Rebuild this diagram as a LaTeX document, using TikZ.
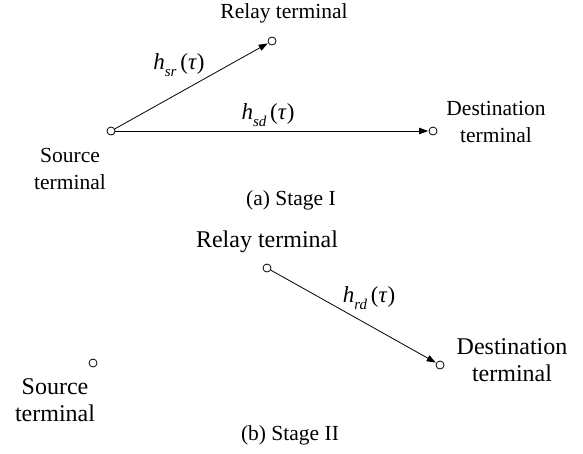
\documentclass[tikz,border=0pt]{standalone}
\usepackage{fontspec}
\setmainfont{Liberation Serif}
\usepackage{tikz}
\usetikzlibrary{positioning, arrows.meta, calc}

\newcommand{\chgain}[1]{\textit{h}\raisebox{-0.3em}{\fontsize{15}{15}\selectfont\textit{#1}}\,(\textit{τ})}

\begin{document}
\begin{tikzpicture}[x=1pt, y=-1pt]
        \tikzset{
            terminal/.style={
                    circle, draw=black, line width=0.8pt, fill=white,
                    minimum size=8pt, inner sep=0pt
                },
            label one/.style={
                    font=\fontsize{21.5}{27}\selectfont, align=center, inner sep=0pt
                },
            label two/.style={
                    font=\fontsize{24}{27}\selectfont, align=center, inner sep=0pt
                },
            channel/.style={
                    font=\fontsize{23}{26}\selectfont, inner sep=0pt
                },
            caption/.style={
                    font=\fontsize{21.5}{25}\selectfont, inner sep=0pt
                },
            link/.style={
                    line width=0.8pt, -{Triangle[length=9pt, width=6.5pt]}, shorten >=0.5pt
                }
        }
        \useasboundingbox (0,0) rectangle (583,453);

        % (a) Stage I
        \node[terminal] (srcA) at (111, 131) {};
        \node[terminal] (relA) at (272, 41) {};
        \node[terminal] (dstA) at (433, 131) {};
        \draw[link] (srcA) -- (relA);
        \draw[link] (srcA) -- (dstA);

        \node[label one] (relAlab) at (284, 13) {Relay terminal};
        \node[label one] (dstAlab) at (496, 122) {Destination\\terminal};
        \node[label one] (srcAlab) at (70, 169) {Source\\terminal};
        \node[channel] (hsr) at (179, 65) {\chgain{sr}};
        \node[channel] (hsd) at (268, 115) {\chgain{sd}};
        \node[caption] (capA) at (291, 200) {(a)\ Stage I};

        % (b) Stage II
        \node[terminal] (srcB) at (93, 363) {};
        \node[terminal] (relB) at (267, 268) {};
        \node[terminal] (dstB) at (440, 365) {};
        \draw[link] (relB) -- (dstB);

        \node[label two] (relBlab) at (267, 242) {Relay terminal};
        \node[label two] (dstBlab) at (512, 360) {Destination\\terminal};
        \node[label two] (srcBlab) at (55, 400) {Source\\terminal};
        \node[channel] (hrd) at (369, 298) {\chgain{rd}};
        \node[caption] (capB) at (290, 435) {(b)\ Stage II};
    \end{tikzpicture}
\end{document}
